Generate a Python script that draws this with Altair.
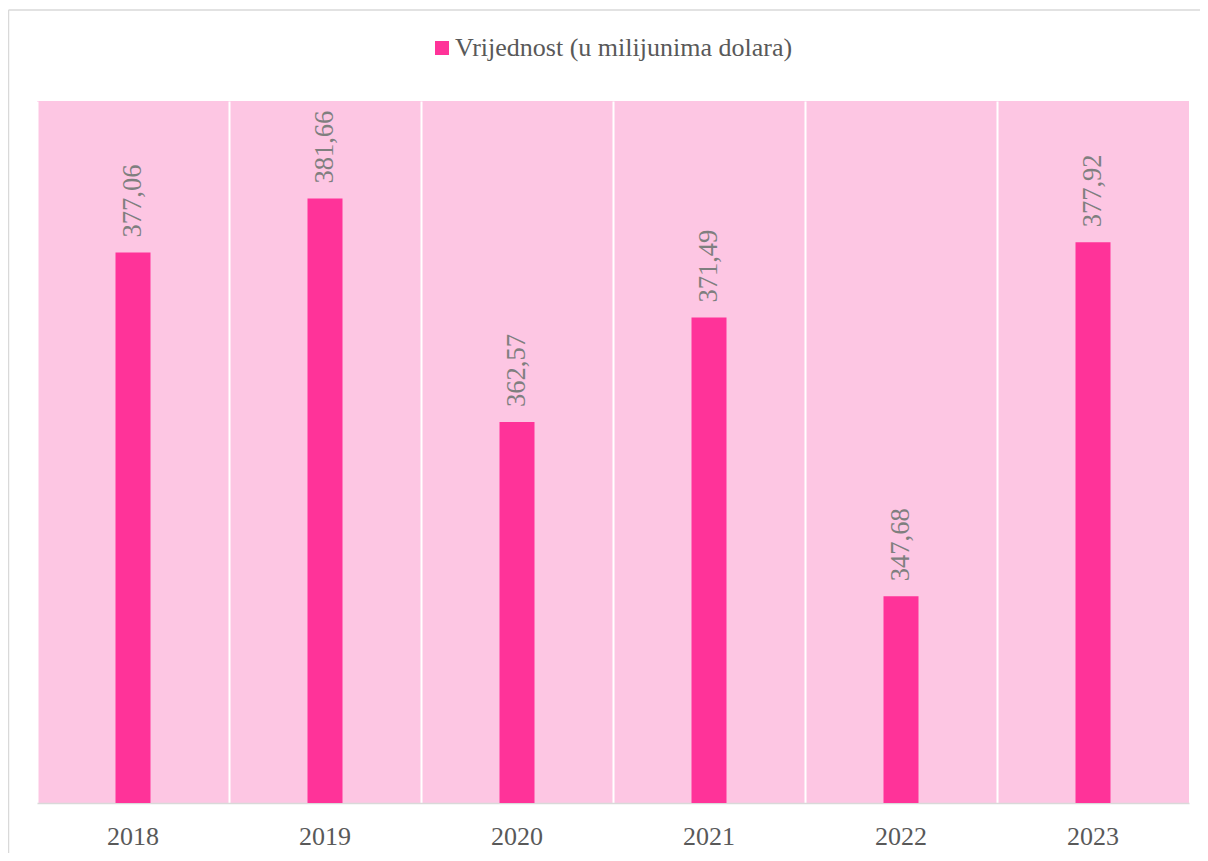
import altair as alt
import pandas as pd

years = ["2018", "2019", "2020", "2021", "2022", "2023"]
values = [377.06, 381.66, 362.57, 371.49, 347.68, 377.92]
labels = ["377,06", "381,66", "362,57", "371,49", "347,68", "377,92"]
series_name = "Vrijednost (u milijunima dolara)"

df = pd.DataFrame({"year": years, "value": values, "label": labels, "series": [series_name] * len(years)})

FONT = "Liberation Serif"
y_scale = alt.Scale(domain=[330, 390], zero=False, nice=False)
x_enc = alt.X(
    "year:N",
    sort=years,
    scale=alt.Scale(paddingInner=0, paddingOuter=0),
    axis=alt.Axis(
        title=None, labelAngle=0, labelFont=FONT, labelFontSize=26, labelColor="#595959",
        labelBaseline="alphabetic", labelPadding=41, ticks=False,
        domainColor="#D9D9D9", domainWidth=1.5,
        grid=True, gridColor="white", gridWidth=2, bandPosition=0,
    ),
)

bars = alt.Chart(df).mark_bar(size=35).encode(
    x=x_enc,
    y=alt.Y("value:Q", scale=y_scale, axis=None),
    y2=alt.datum(330),
    color=alt.Color(
        "series:N",
        scale=alt.Scale(range=["#FF3399"]),
        legend=alt.Legend(
            title=None, orient="none", legendX=392, legendY=-66, padding=0,
            symbolType="square", symbolSize=196, symbolStrokeWidth=0,
            labelFont=FONT, labelFontSize=26, labelColor="#595959", labelOffset=0,
            labelLimit=0,
        ),
    ),
)

text = alt.Chart(df).mark_text(
    angle=270, align="left", baseline="middle", dx=15,
    font=FONT, fontSize=26.5, color="#7F7F7F",
).encode(
    x=alt.X("year:N", sort=years),
    y=alt.Y("value:Q", scale=y_scale),
    text="label:N",
)

border_df = pd.DataFrame({"k": [0]})
border_left = alt.Chart(border_df).mark_rule(color="#D9D9D9", strokeWidth=1.5).encode(
    x=alt.value(-28.5), y=alt.value(-91), y2=alt.value(760)
)
border_top = alt.Chart(border_df).mark_rule(color="#D9D9D9", strokeWidth=1.5).encode(
    x=alt.value(-28.5), x2=alt.value(1170), y=alt.value(-91)
)

chart = alt.layer(bars, text, border_left, border_top).properties(
    width=1152, height=702,
    padding={"left": 29, "top": 93, "right": 11, "bottom": 50},
    autosize=alt.AutoSizeParams(type="none"),
).configure_view(
    fill="#FDC6E3", stroke=None
)

chart.save("out.html", embed_options={"renderer": "svg", "actions": False})
